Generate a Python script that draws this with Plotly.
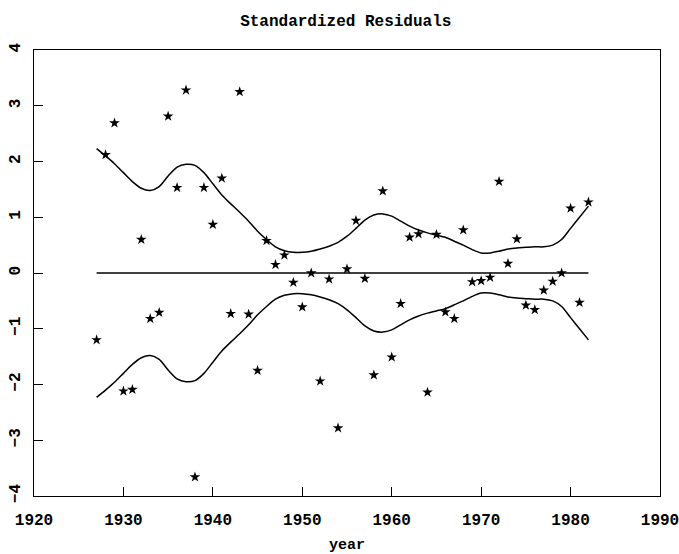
import plotly.graph_objects as go

# residuals by year
years = list(range(1927, 1983))
residuals = [
    -1.20, 2.12, 2.69, -2.12, -2.09, 0.60, -0.82, -0.71, 2.81, 1.53,
    3.28, -3.66, 1.53, 0.87, 1.70, -0.73, 3.25, -0.74, -1.75, 0.58,
    0.15, 0.32, -0.17, -0.61, 0.00, -1.94, -0.11, -2.78, 0.07, 0.94,
    -0.10, -1.83, 1.47, -1.51, -0.55, 0.64, 0.70, -2.14, 0.69, -0.70,
    -0.82, 0.77, -0.16, -0.14, -0.08, 1.64, 0.17, 0.61, -0.58, -0.66,
    -0.31, -0.15, 0.00, 1.16, -0.53, 1.27,
]

# smooth band (upper half; lower half is its mirror)
envelope = [
    2.23, 2.10, 1.96, 1.80, 1.64, 1.52, 1.48, 1.55, 1.74, 1.90,
    1.95, 1.93, 1.80, 1.60, 1.40, 1.24, 1.09, 0.93, 0.75, 0.60,
    0.47, 0.40, 0.37, 0.37, 0.39, 0.43, 0.48, 0.55, 0.66, 0.80,
    0.95, 1.04, 1.06, 1.02, 0.93, 0.84, 0.77, 0.72, 0.68, 0.64,
    0.57, 0.50, 0.42, 0.36, 0.36, 0.39, 0.43, 0.45, 0.46, 0.47,
    0.47, 0.50, 0.60, 0.80, 1.00, 1.20,
]

FONT = "Liberation Mono, Courier New, monospace"

fig = go.Figure()

line_style = dict(color="black", width=1.5, shape="spline", smoothing=0.8)
fig.add_trace(go.Scatter(x=years, y=envelope, mode="lines", line=line_style))
fig.add_trace(go.Scatter(x=years, y=[-v for v in envelope], mode="lines", line=line_style))
fig.add_trace(go.Scatter(x=[years[0], years[-1]], y=[0, 0], mode="lines",
                         line=dict(color="black", width=1.5)))
fig.add_trace(go.Scatter(x=years, y=residuals, mode="markers",
                         marker=dict(symbol="star", size=8, color="black")))

axis_common = dict(
    showgrid=False, zeroline=False, showline=True, mirror=True,
    linecolor="black", linewidth=1.3, automargin=False,
    ticks="inside", ticklen=9, tickwidth=1.2, tickcolor="black",
    tickfont=dict(family=FONT, size=16, color="black", weight="bold"),
)

fig.update_layout(
    width=679, height=554,
    margin=dict(l=34, r=19, t=50, b=58),
    paper_bgcolor="white", plot_bgcolor="white",
    showlegend=False,
    title=dict(text="Standardized Residuals", x=0.498, xref="paper",
               y=1 - 15 / 554, yref="container", xanchor="center", yanchor="top",
               font=dict(family=FONT, size=16, color="black", weight="bold")),
    xaxis=dict(range=[1920, 1990], tickvals=[1920, 1930, 1940, 1950, 1960, 1970, 1980, 1990],
               ticklabelstandoff=9, ticklabeloverflow="allow",
               title=dict(text="year", standoff=20,
                          font=dict(family=FONT, size=15, color="black", weight="bold")),
               **axis_common),
    yaxis=dict(range=[-4, 4], tickvals=[-4, -3, -2, -1, 0, 1, 2, 3, 4], tickangle=-90,
               ticklabelstandoff=6, **axis_common),
)

# drop the default 8px body margin so the figure fills the window exactly
fig.write_html("out.html", config={"displayModeBar": False},
               post_script="document.body.style.margin = '0';")
